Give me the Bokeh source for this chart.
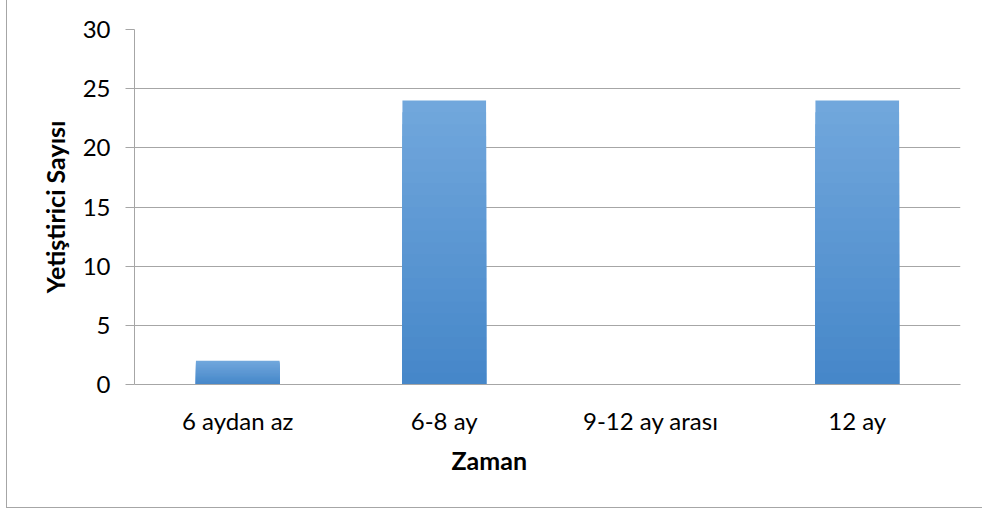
from bokeh.plotting import figure
from bokeh.models import Range1d, FixedTicker, Title
from bokeh.embed import file_html
from bokeh.resources import INLINE

categories = ["6 aydan az", "6-8 ay", "9-12 ay arası", "12 ay"]
counts = [2, 24, 0, 24]
y_ticks = [0, 5, 10, 15, 20, 25, 30]
x_title = "Zaman"
y_title = "Yetiştirici Sayısı"

FONT = "Lato"
FS = "24px"
FS_T = "25px"
GRID = "#A6A6A6"
TOP_RGB = (0x71, 0xA7, 0xDC)
BOT_RGB = (0x46, 0x87, 0xC9)

p = figure(x_range=categories, y_range=Range1d(0, 30), width=976, height=508,
           output_backend="svg", toolbar_location=None,
           min_border_left=127, min_border_right=23, min_border_top=29,
           min_border_bottom=124)
p.styles = {"margin-left": "6px", "border-left": "1px solid #A6A6A6",
            "border-bottom": "1px solid #A6A6A6"}

# gradient bars: overlapping shorter bars, each darker toward the bottom
N = 24
for k in range(N):
    t = k / (N - 1)
    rgb = tuple(round(a + (b - a) * t) for a, b in zip(TOP_RGB, BOT_RGB))
    col = "#%02x%02x%02x" % rgb
    frac = 1 - k / N
    p.vbar(x=categories, top=[c * frac for c in counts], bottom=0, width=0.405,
           fill_color=col, line_color=None)

p.outline_line_color = None
p.xgrid.grid_line_color = None
p.ygrid.grid_line_color = GRID
p.ygrid.grid_line_width = 1

p.yaxis.ticker = FixedTicker(ticks=y_ticks)
p.yaxis.axis_line_color = GRID
p.yaxis.major_tick_line_color = GRID
p.yaxis.major_tick_out = 9
p.yaxis.major_tick_in = 0
p.yaxis.minor_tick_line_color = None
p.yaxis.major_label_standoff = 15
p.yaxis.axis_label = y_title
p.yaxis.axis_label_standoff = 10
p.yaxis.axis_label_text_font = FONT
p.yaxis.axis_label_text_font_style = "bold"
p.yaxis.axis_label_text_font_size = FS_T
p.yaxis.axis_label_text_color = "black"

p.xaxis.axis_line_color = GRID
p.xaxis.major_tick_line_color = None
p.xaxis.minor_tick_line_color = None
p.xaxis.major_label_standoff = 15

for ax in (p.xaxis, p.yaxis):
    ax.major_label_text_font = FONT
    ax.major_label_text_font_size = FS
    ax.major_label_text_color = "black"

p.add_layout(Title(text=x_title, align="left", offset=317, standoff=10,
                   text_font=FONT, text_font_style="bold", text_font_size=FS_T,
                   text_color="black"), "below")

open("out.html", "w").write(file_html(p, INLINE))
